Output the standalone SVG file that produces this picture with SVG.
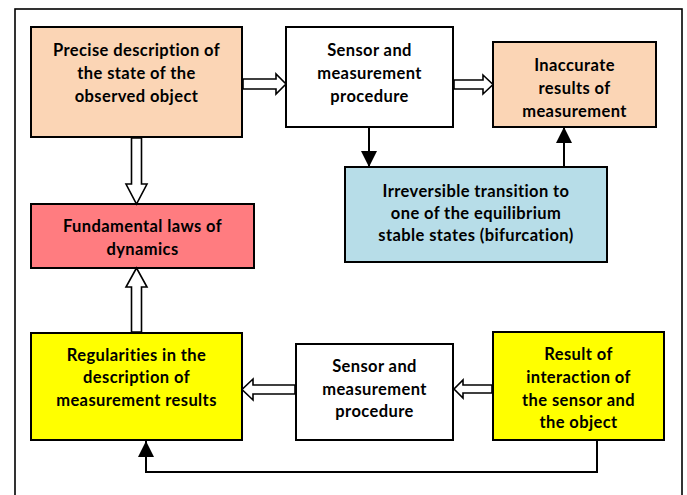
<svg xmlns="http://www.w3.org/2000/svg" width="687" height="495" viewBox="0 0 687 495">
<defs>
<style>
.box{stroke:#000;stroke-width:2}
.t{font-family:Lato,"Liberation Sans",sans-serif;font-weight:bold;font-size:16.5px;letter-spacing:0.4px;text-anchor:middle;fill:#000}
.hollow{fill:#fff;stroke:#000;stroke-width:1.6;stroke-linejoin:miter}
.solid{fill:none;stroke:#000;stroke-width:2}
</style>
<marker id="ah" viewBox="0 0 16 16" refX="16" refY="8" markerWidth="16" markerHeight="16" markerUnits="userSpaceOnUse" orient="auto">
<path d="M0,0 L16,8 L0,16 Z" fill="#000"/>
</marker>
</defs>
<rect width="687" height="495" fill="#fff"/>
<rect x="15" y="9" width="667" height="500" fill="none" stroke="#000" stroke-width="1.6"/>

<g id="precise">
<rect class="box" x="31" y="27" width="211" height="110" fill="#FBD5B5"/>
<text class="t" x="136.5" y="56">Precise description of</text>
<text class="t" x="136.5" y="79">the state of the</text>
<text class="t" x="136.5" y="102">observed object</text>
</g>
<g id="sensor-top">
<rect class="box" x="286" y="27" width="167" height="100" fill="#fff"/>
<text class="t" x="369.5" y="56">Sensor and</text>
<text class="t" x="369.5" y="79">measurement</text>
<text class="t" x="369.5" y="102">procedure</text>
</g>
<g id="inaccurate">
<rect class="box" x="493" y="42" width="163" height="85" fill="#FBD5B5"/>
<text class="t" x="574.5" y="71">Inaccurate</text>
<text class="t" x="574.5" y="94">results of</text>
<text class="t" x="574.5" y="117">measurement</text>
</g>
<g id="irreversible">
<rect class="box" x="345" y="167" width="262" height="95" fill="#B7DDE8"/>
<text class="t" x="476" y="197">Irreversible transition to</text>
<text class="t" x="476" y="219">one of the equilibrium</text>
<text class="t" x="476" y="241">stable states (bifurcation)</text>
</g>
<g id="fundamental">
<rect class="box" x="31" y="204" width="223" height="64" fill="#FF7C80"/>
<text class="t" x="142.5" y="232">Fundamental laws of</text>
<text class="t" x="142.5" y="255">dynamics</text>
</g>
<g id="regularities">
<rect class="box" x="31" y="333" width="211" height="107" fill="#FFFF00"/>
<text class="t" x="136.5" y="361">Regularities in the</text>
<text class="t" x="136.5" y="383">description of</text>
<text class="t" x="136.5" y="406">measurement results</text>
</g>
<g id="sensor-bottom">
<rect class="box" x="296" y="344" width="157" height="96" fill="#fff"/>
<text class="t" x="374.5" y="372">Sensor and</text>
<text class="t" x="374.5" y="395">measurement</text>
<text class="t" x="374.5" y="417">procedure</text>
</g>
<g id="result">
<rect class="box" x="493" y="332" width="171" height="108" fill="#FFFF00"/>
<text class="t" x="578.5" y="360">Result of</text>
<text class="t" x="578.5" y="383">interaction of</text>
<text class="t" x="578.5" y="406">the sensor and</text>
<text class="t" x="578.5" y="428">the object</text>
</g>

<g id="connectors">
<polygon class="hollow" points="243,79 276,79 276,74 286,84 276,94 276,89 243,89"/>
<polygon class="hollow" points="454,80 483,80 483,75 493,84.5 483,94 483,89 454,89"/>
<polygon class="hollow" points="131.5,138 141.5,138 141.5,184 147,184 136.5,204 126,184 131.5,184"/>
<polygon class="hollow" points="131.5,332 141.5,332 141.5,287 147,287 136.5,268 126,287 131.5,287"/>
<polygon class="hollow" points="295,385 253,385 253,379 242,389.5 253,400 253,394 295,394"/>
<polygon class="hollow" points="492,385 463,385 463,380 454,389 463,398 463,393 492,393"/>
<path class="solid" d="M369,127 L369,167" marker-end="url(#ah)"/>
<path class="solid" d="M564,167 L564,127" marker-end="url(#ah)"/>
<path class="solid" d="M597,440 L597,472 L146,472 L146,441" marker-end="url(#ah)"/>
</g>
</svg>
